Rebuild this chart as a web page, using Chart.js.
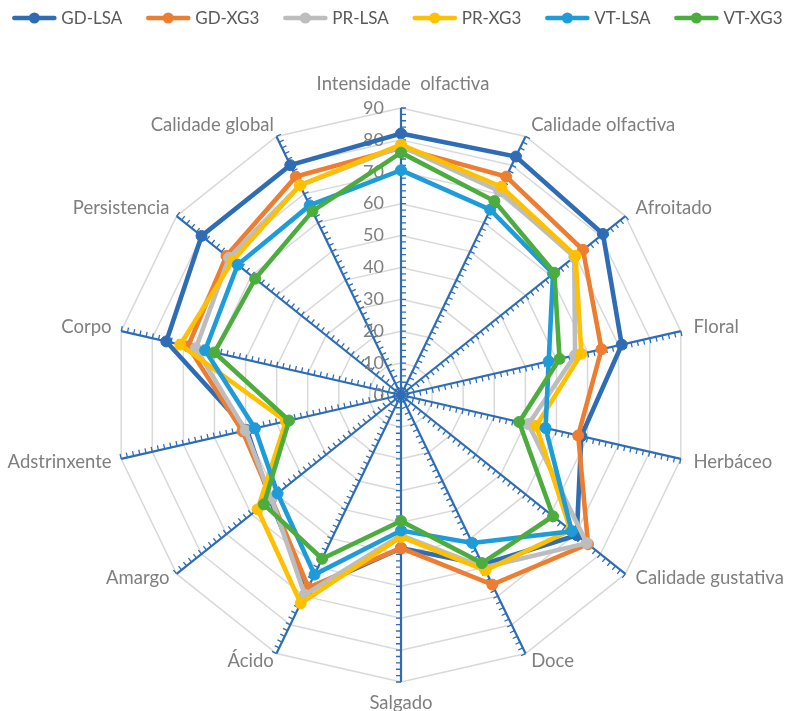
<!DOCTYPE html>
<html>
<head>
<meta charset="utf-8">
<script src="https://cdn.jsdelivr.net/npm/chart.js@4.4.1/dist/chart.umd.min.js"></script>
<style>
  html, body { margin: 0; padding: 0; background: #ffffff; }
  canvas { display: block; }
</style>
</head>
<body>
<canvas id="radar" width="795" height="711"></canvas>
<script>
// Sensory attributes (one spoke each, clockwise from the top)
const categories = [
  'Intensidade  olfactiva', 'Calidade olfactiva', 'Afroitado', 'Floral', 'Herbáceo',
  'Calidade gustativa', 'Doce', 'Salgado', 'Ácido', 'Amargo', 'Adstrinxente',
  'Corpo', 'Persistencia', 'Calidade global'
];

const seriesNames = ['GD-LSA', 'GD-XG3', 'PR-LSA', 'PR-XG3', 'VT-LSA', 'VT-XG3'];

const gdLsa = [82, 83, 81, 71, 58, 70.5, 59, 48, 68, 52.5, 49.5, 75.5, 80, 80];
const gdXg3 = [77.5, 76, 73, 64.5, 57, 75, 66, 48, 67, 52, 51, 68.5, 70, 76];
const prLsa = [78, 71, 69.5, 56, 41, 74.5, 60, 44, 69.5, 52, 50, 66, 69, 73];
const prXg3 = [78.5, 72.5, 70, 58, 43.5, 68, 61, 44.5, 72.5, 57.5, 37, 71, 67.5, 73];
const vtLsa = [70.5, 64.5, 61, 47.5, 46.5, 68.5, 51.5, 42.5, 62.5, 49.5, 47, 63, 65.5, 66];
const vtXg3 = [76, 67.5, 61.5, 51, 38, 61, 58.5, 39.5, 57, 55, 36, 60, 58.5, 64];

const tickValues = [0, 10, 20, 30, 40, 50, 60, 70, 80, 90];

const seriesColors = ['#2E6DB5', '#ED7D31', '#BDBDBD', '#FFC000', '#1E9CD9', '#4DAC3E'];

const FONT = 'Lato, "Open Sans", sans-serif';
const AXIS_BLUE = '#2E6DB5';
const TEXT_GRAY = '#7F7F7F';
const CENTER_X = 401, CENTER_Y = 395, OUTER_RADIUS = 287;

const seriesValues = [gdLsa, gdXg3, prLsa, prXg3, vtLsa, vtXg3];

const datasets = seriesNames.map((name, i) => ({
  label: name,
  data: seriesValues[i],
  borderColor: seriesColors[i],
  backgroundColor: seriesColors[i],
  pointBackgroundColor: seriesColors[i],
  pointBorderColor: seriesColors[i],
  borderWidth: 4.6,
  pointRadius: 5.5,
  pointBorderWidth: 1,
  fill: false,
  tension: 0,
  order: seriesNames.length - i   // later series painted on top
}));

// Small tick marks along every spoke, on the clockwise side,
// plus the value scale and the attribute names
const spokeTicks = {
  id: 'spokeTicks',
  beforeDatasetsDraw(chart) {
    const scale = chart.scales.r;
    const ctx = chart.ctx;
    ctx.save();
    ctx.strokeStyle = AXIS_BLUE;
    ctx.lineWidth = 1.3;
    ctx.beginPath();
    for (let i = 0; i < categories.length; i++) {
      const a = scale.getIndexAngle(i) - Math.PI / 2;
      const px = Math.cos(a + Math.PI / 2), py = Math.sin(a + Math.PI / 2);
      for (let v = 2; v <= 90; v += 2) {
        const p = scale.getPointPosition(i, scale.getDistanceFromCenterForValue(v));
        ctx.moveTo(p.x, p.y);
        ctx.lineTo(p.x + px * 5, p.y + py * 5);
      }
    }
    ctx.stroke();

    // value labels along the top spoke
    ctx.fillStyle = TEXT_GRAY;
    ctx.font = '18px ' + FONT;
    ctx.textAlign = 'right';
    ctx.textBaseline = 'middle';
    tickValues.forEach(v => {
      const d = scale.getDistanceFromCenterForValue(v);
      ctx.fillText(String(v), scale.xCenter - 17, scale.yCenter - d);
    });

    // attribute names round the outside
    ctx.font = '18.5px ' + FONT;
    const pad = 13;
    categories.forEach((label, i) => {
      const p = scale.getPointPosition(i, scale.drawingArea + pad);
      let align = 'center', baseline = 'middle', x = p.x, y = p.y;
      if (i === 0) { baseline = 'bottom'; x += 2; y -= 2; }
      else if (i === 7) { baseline = 'top'; y -= 1; }
      else if (i < 7) { align = 'left'; }
      else { align = 'right'; x += 3; }
      if (i === 5 || i === 6 || i === 8 || i === 9) y -= 4;
      if (i === 3 || i === 11) y -= 1;
      ctx.textAlign = align;
      ctx.textBaseline = baseline;
      ctx.fillText(label, x, y);
    });
    ctx.restore();
  }
};

// Legend row across the top: line + round marker, then the series name
const topLegend = {
  id: 'topLegend',
  afterDraw(chart) {
    const ctx = chart.ctx;
    ctx.save();
    ctx.font = '17px ' + FONT;
    const lineLen = 44, textGap = 5, itemGap = 24;
    const widths = seriesNames.map(n => ctx.measureText(n).width);
    let total = 0;
    widths.forEach((w, i) => { total += lineLen + textGap + w + (i < widths.length - 1 ? itemGap : 0); });
    let x = 397.5 - total / 2;
    const y = 18;
    seriesNames.forEach((name, i) => {
      ctx.strokeStyle = seriesColors[i];
      ctx.fillStyle = seriesColors[i];
      ctx.lineWidth = 4.6;
      ctx.lineCap = 'round';
      ctx.beginPath();
      ctx.moveTo(x + 2, y);
      ctx.lineTo(x + lineLen - 2, y);
      ctx.stroke();
      ctx.beginPath();
      ctx.arc(x + lineLen / 2, y, 5.5, 0, Math.PI * 2);
      ctx.fill();
      ctx.fillStyle = '#595959';
      ctx.textAlign = 'left';
      ctx.textBaseline = 'middle';
      ctx.fillText(name, x + lineLen + textGap, y + 1);
      x += lineLen + textGap + widths[i] + itemGap;
    });
    ctx.restore();
  }
};

new Chart(document.getElementById('radar'), {
  type: 'radar',
  data: { labels: categories, datasets },
  options: {
    responsive: false,
    animation: false,
    devicePixelRatio: 1,
    plugins: {
      legend: { display: false },
      tooltip: { enabled: false }
    },
    elements: { line: { tension: 0 } },
    scales: {
      r: {
        min: 0,
        max: 90,
        ticks: { stepSize: 10, display: false },
        grid: { color: '#D9D9D9', lineWidth: 1.5, circular: false },
        angleLines: { display: true, color: AXIS_BLUE, lineWidth: 2.2 },
        pointLabels: { display: false },
        afterFit(scale) {
          scale.xCenter = CENTER_X;
          scale.yCenter = CENTER_Y;
          scale.drawingArea = OUTER_RADIUS;
        }
      }
    }
  },
  plugins: [spokeTicks, topLegend]
});
</script>
</body>
</html>
